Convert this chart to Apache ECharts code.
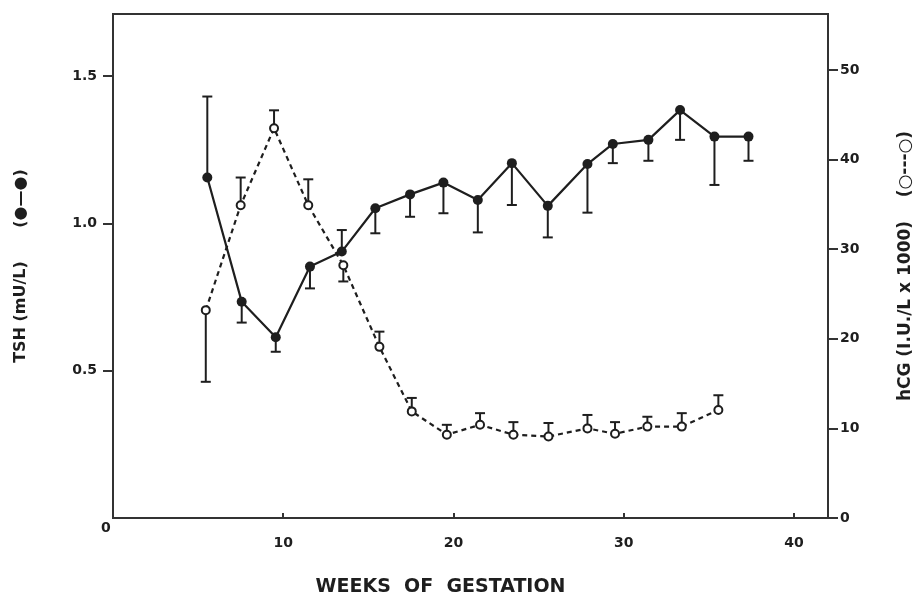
<!DOCTYPE html>
<html>
<head>
<meta charset="utf-8">
<script src="https://cdn.jsdelivr.net/npm/echarts@6/dist/echarts.min.js"></script>
<style>
html,body{margin:0;padding:0;background:#fff;}
#chart{width:918px;height:596px;}
</style>
</head>
<body>
<div id="chart"></div>
<script>
// TSH (mU/L), filled circles, solid line
var tshWeeks = [5.54, 7.56, 9.56, 11.57, 13.44, 15.41, 17.45, 19.41, 21.43, 23.43, 25.54, 27.87, 29.36, 31.45, 33.31, 35.33, 37.33];
var tshValues = [1.155, 0.734, 0.613, 0.853, 0.904, 1.051, 1.098, 1.138, 1.079, 1.204, 1.059, 1.201, 1.269, 1.283, 1.384, 1.294, 1.294];
var tshErrEnd = [1.43, 0.663, 0.564, 0.779, 0.977, 0.966, 1.022, 1.034, 0.969, 1.062, 0.952, 1.036, 1.204, 1.212, 1.283, 1.130, 1.212];

// hCG (I.U./L x 1000), open circles, dashed line
var hcgWeeks = [5.45, 7.50, 9.46, 11.47, 13.53, 15.65, 17.55, 19.61, 21.56, 23.52, 25.58, 27.87, 29.49, 31.39, 33.41, 35.56];
var hcgValues = [23.2, 34.9, 43.5, 34.9, 28.2, 19.1, 11.9, 9.3, 10.4, 9.3, 9.1, 10.0, 9.4, 10.2, 10.2, 12.05];
var hcgErrEnd = [15.2, 38.0, 45.5, 37.8, 26.4, 20.8, 13.4, 10.4, 11.7, 10.7, 10.6, 11.5, 10.7, 11.3, 11.7, 13.7];

// axis ticks
var xTicks = [10, 20, 30, 40];
var tshTicks = [0.5, 1.0, 1.5];
var hcgTicks = [0, 10, 20, 30, 40, 50];

var INK = '#1e1e1e';
var FONT = 'DejaVu Sans';

function pairs(xs, ys) { return xs.map(function (x, i) { return [x, ys[i]]; }); }
function triples(xs, ys, es) { return xs.map(function (x, i) { return [x, ys[i], es[i]]; }); }

function errRender(params, api) {
  var p0 = api.coord([api.value(0), api.value(1)]);
  var p1 = api.coord([api.value(0), api.value(2)]);
  var hw = 5;
  var st = { stroke: INK, lineWidth: 2 };
  return {
    type: 'group',
    children: [
      { type: 'line', shape: { x1: p0[0], y1: p0[1], x2: p1[0], y2: p1[1] }, style: st },
      { type: 'line', shape: { x1: p1[0] - hw, y1: p1[1], x2: p1[0] + hw, y2: p1[1] }, style: st }
    ]
  };
}

var chart = echarts.init(document.getElementById('chart'), null, { renderer: 'canvas' });
chart.setOption({
  backgroundColor: '#fff',
  animation: false,
  grid: { left: 113, right: 90, top: 14, bottom: 78, containLabel: false, outerBoundsMode: 'none',
    show: true, borderColor: '#333', borderWidth: 2, backgroundColor: 'transparent' },
  xAxis: {
    type: 'value', min: 0, max: 42, interval: 10,
    name: 'WEEKS  OF  GESTATION', nameLocation: 'middle', nameGap: 60,
    nameTextStyle: { fontFamily: FONT, fontWeight: 'bold', fontSize: 19, color: INK, padding: [0, 60, 0, 0] },
    axisLine: { show: false },
    axisTick: { show: true, inside: true, length: 5, customValues: xTicks, lineStyle: { color: '#333', width: 2 } },
    axisLabel: { margin: 18, fontFamily: FONT, fontWeight: 'bold', fontSize: 14, color: INK, customValues: xTicks },
    splitLine: { show: false }
  },
  yAxis: [
    {
      type: 'value', min: 0, max: 1.71, interval: 0.5, position: 'left',
      name: 'TSH (mU/L)      (●—●)', nameLocation: 'middle', nameGap: 84,
      nameTextStyle: { fontFamily: FONT, fontWeight: 'bold', fontSize: 16, color: INK, padding: [0, 0, 0, 0] },
      axisLine: { show: false },
      axisTick: { show: true, length: 10, customValues: tshTicks, lineStyle: { color: '#333', width: 2 } },
      axisLabel: { margin: 16, fontFamily: FONT, fontWeight: 'bold', fontSize: 14, color: INK, customValues: tshTicks,
        formatter: function (v) { return Number(v).toFixed(1); } },
      splitLine: { show: false }
    },
    {
      type: 'value', min: 0, max: 56.25, interval: 10, position: 'right',
      name: 'hCG (I.U./L x 1000)    (○---○)', nameLocation: 'middle', nameGap: 69,
      nameTextStyle: { fontFamily: FONT, fontWeight: 'bold', fontSize: 17, color: INK, padding: [0, 0, 16, 0] },
      axisLine: { show: false },
      axisTick: { show: true, length: 10, customValues: hcgTicks, lineStyle: { color: '#333', width: 2 } },
      axisLabel: { margin: 12, fontFamily: FONT, fontWeight: 'bold', fontSize: 14, color: INK, customValues: hcgTicks },
      splitLine: { show: false }
    }
  ],
  graphic: [
    { type: 'text', left: 101, top: 521, style: { text: '0', font: 'bold 14px "DejaVu Sans"', fill: INK } }
  ],
  series: [
    { type: 'custom', yAxisIndex: 0, renderItem: errRender, data: triples(tshWeeks, tshValues, tshErrEnd), z: 2, silent: true },
    { type: 'custom', yAxisIndex: 1, renderItem: errRender, data: triples(hcgWeeks, hcgValues, hcgErrEnd), z: 2, silent: true },
    {
      type: 'line', yAxisIndex: 1, data: pairs(hcgWeeks, hcgValues), z: 3,
      symbol: 'circle', symbolSize: 8,
      lineStyle: { color: INK, width: 2.2, type: [5, 4] },
      itemStyle: { color: '#fff', borderColor: INK, borderWidth: 2 }
    },
    {
      type: 'line', yAxisIndex: 0, data: pairs(tshWeeks, tshValues), z: 4,
      symbol: 'circle', symbolSize: 10,
      lineStyle: { color: INK, width: 2.2 },
      itemStyle: { color: INK, borderColor: INK, borderWidth: 0 }
    }
  ]
});
</script>
</body>
</html>
